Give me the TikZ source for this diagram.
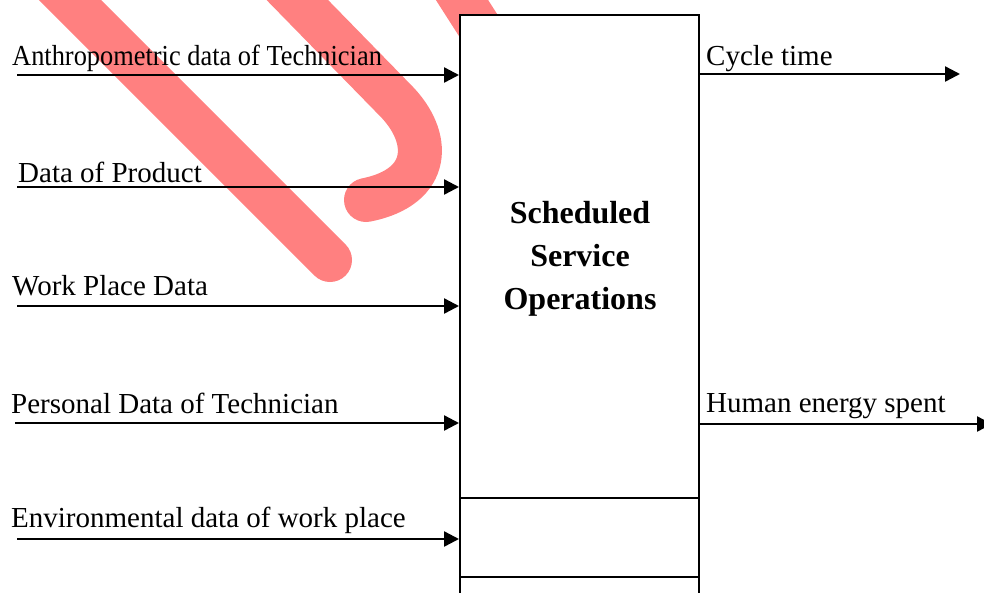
\documentclass[tikz,border=0pt]{standalone}
\usepackage{fontspec}
\setmainfont{Liberation Serif}
\usetikzlibrary{arrows.meta}

\definecolor{markred}{RGB}{255,128,128}

\tikzset{
  flow/.style={line width=2.4pt, -{Triangle[length=15pt,width=15pt]}},
  lbl/.style={anchor=base west, inner sep=0pt, font=\fontsize{29}{33}\selectfont},
  opsbox/.style={draw, line width=2pt, fill=white, minimum width=239pt, minimum height=625pt, inner sep=0pt},
  title/.style={align=center, font=\fontsize{32}{43}\selectfont\bfseries},
  stamp/.style={draw=markred, line width=44pt}
}

\begin{document}
\begin{tikzpicture}[x=1pt,y=-1pt]
                    \useasboundingbox (0,0) rectangle (984,592);
                    \clip (0,0) rectangle (984,592);

                    % Drawing the red strokes
                    \draw [stamp, line cap=round] (40,-30) -- (330,260);%
                    \draw [stamp, line cap=round] (268,-30) -- (395,100) .. controls (432,137) and (432,187) .. (366,200);%
                    \draw [stamp] (446,-25) -- (526,100);%

                    % Drawing box ops
                    \node [opsbox] (ops) at (579.5,327.5) {};%
                    \node [title] (name) at (580,259) {Scheduled\\Service\\Operations};%

                    % Drawing the two dividers
                    \coordinate (div1) at (0,498);
                    \coordinate (div2) at (0,577);
                    \draw [line width=2pt] (ops.west |- div1) -- (ops.east |- div1);%
                    \draw [line width=2pt] (ops.west |- div2) -- (ops.east |- div2);%

                    % Drawing inputs
                    \coordinate (in1) at (17,75);
                    \coordinate (in2) at (17,187);
                    \coordinate (in3) at (17,306);
                    \coordinate (in4) at (15,423);
                    \coordinate (in5) at (17,539);
                    \draw [flow] (in1) -- (in1 -| ops.west);%
                    \draw [flow] (in2) -- (in2 -| ops.west);%
                    \draw [flow] (in3) -- (in3 -| ops.west);%
                    \draw [flow] (in4) -- (in4 -| ops.west);%
                    \draw [flow] (in5) -- (in5 -| ops.west);%
                    \node [lbl] (l1) at (12,65) {\scalebox{0.91}[1]{Anthropometric data of Technician}};%
                    \node [lbl] (l2) at (18,182) {Data of Product};%
                    \node [lbl] (l3) at (12,295) {Work Place Data};%
                    \node [lbl] (l4) at (11,413) {Personal Data of Technician};%
                    \node [lbl] (l5) at (11,527) {Environmental data of work place};%

                    % Drawing outputs
                    \coordinate (out1) at (960,74);
                    \coordinate (out2) at (992,424);
                    \draw [flow] (out1 -| ops.east) -- (out1);%
                    \draw [flow] ([xshift=-2pt]out2 -| ops.east) -- (out2);%
                    \node [lbl] (r1) at (706,65) {Cycle time};%
                    \node [lbl] (r2) at (706,412) {Human energy spent};%
\end{tikzpicture}
\end{document}
